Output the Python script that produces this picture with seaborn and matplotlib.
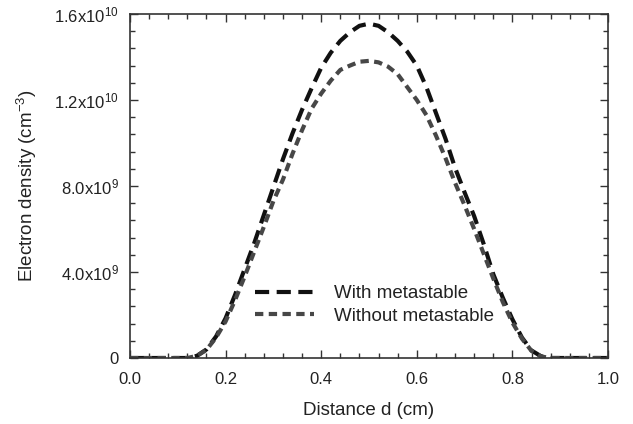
import matplotlib
matplotlib.use("Agg")
import matplotlib.pyplot as plt
import seaborn as sns
import numpy as np
import pandas as pd
from matplotlib.ticker import FixedLocator, MultipleLocator, FixedFormatter

distance = [0.00, 0.04, 0.08, 0.12, 0.14, 0.16, 0.18, 0.20, 0.22, 0.24, 0.26, 0.28, 0.30,
            0.32, 0.34, 0.36, 0.38, 0.40, 0.42, 0.44, 0.46, 0.48, 0.50, 0.52, 0.54, 0.56,
            0.58, 0.60, 0.62, 0.64, 0.66, 0.68, 0.70, 0.72, 0.74, 0.76, 0.78, 0.80, 0.82,
            0.84, 0.86, 0.88, 0.92, 0.96, 1.00]

with_meta = [0.0, 0.0, 0.0, 0.0, 0.1, 0.4, 1.0, 1.85, 2.95, 4.15, 5.35, 6.65, 7.95,
             9.25, 10.45, 11.55, 12.55, 13.5, 14.2, 14.75, 15.15, 15.45, 15.55, 15.45, 15.15, 14.75,
             14.25, 13.6, 12.6, 11.4, 10.2, 8.85, 7.7, 6.6, 5.3, 3.9, 2.8, 1.8, 0.95,
             0.35, 0.08, 0.0, 0.0, 0.0, 0.0]

without_meta = [0.0, 0.0, 0.0, 0.0, 0.1, 0.38, 0.95, 1.7, 2.7, 3.8, 4.95, 6.1, 7.3,
                8.3, 9.5, 10.6, 11.6, 12.3, 12.9, 13.4, 13.6, 13.78, 13.82, 13.75, 13.55, 13.2,
                12.6, 12.0, 11.3, 10.35, 9.3, 8.15, 7.1, 6.0, 4.85, 3.7, 2.6, 1.65, 0.9,
                0.33, 0.07, 0.0, 0.0, 0.0, 0.0]

series_labels = ["With metastable", "Without metastable"]
y_ticks = [0, 4.0e9, 8.0e9, 1.2e10, 1.6e10]
y_tick_labels = ["0", r"4.0x10$^{9}$", r"8.0x10$^{9}$", r"1.2x10$^{10}$", r"1.6x10$^{10}$"]
x_ticks = [0.0, 0.2, 0.4, 0.6, 0.8, 1.0]
x_tick_labels = ["0.0", "0.2", "0.4", "0.6", "0.8", "1.0"]

sns.set_style("ticks")
plt.rcParams["font.family"] = ["Liberation Sans", "DejaVu Sans"]
plt.rcParams["mathtext.fontset"] = "custom"
plt.rcParams["mathtext.rm"] = "Liberation Sans"
plt.rcParams["mathtext.it"] = "Liberation Sans"

fig = plt.figure(figsize=(6.33, 4.24), dpi=100)
ax = fig.add_axes([130/633, 66/424, 478/633, 344/424])

x = np.array(distance)
y1 = np.array(with_meta) * 1e9
y2 = np.array(without_meta) * 1e9

sns.lineplot(x=x, y=y1, ax=ax, color="#111111", linewidth=3.0, label=series_labels[0],
             dashes=False, sort=False)
sns.lineplot(x=x, y=y2, ax=ax, color="#474747", linewidth=3.0, label=series_labels[1],
             dashes=False, sort=False)
ax.lines[0].set_dashes([3.4, 1.8])
ax.lines[1].set_dashes([2.0, 1.3])

ax.set_xlim(0, 1.0)
ax.set_ylim(0, 1.6e10)
ax.xaxis.set_major_locator(FixedLocator(x_ticks))
ax.xaxis.set_major_formatter(FixedFormatter(x_tick_labels))
ax.xaxis.set_minor_locator(MultipleLocator(0.04))
ax.yaxis.set_major_locator(FixedLocator(y_ticks))
ax.yaxis.set_major_formatter(FixedFormatter(y_tick_labels))
ax.yaxis.set_minor_locator(MultipleLocator(0.8e9))

ax.tick_params(which="both", direction="in", top=True, right=True, colors="#333333",
               labelcolor="#222222", labelsize=12)
ax.tick_params(which="major", length=6, width=1.0)
ax.tick_params(axis="x", which="major", pad=10)
ax.tick_params(axis="y", which="major", pad=8)
ax.tick_params(which="minor", length=3.5, width=1.0)
for s in ax.spines.values():
    s.set_color("#333333")
    s.set_linewidth(1.2)

ax.set_xlabel("Distance d (cm)", fontsize=13.5, color="#222222", labelpad=11)
ax.set_ylabel(r"Electron density (cm$^{-3}$)", fontsize=13.5, color="#222222", labelpad=11)

leg = ax.legend(loc="upper left", bbox_to_anchor=(0.235, 0.25), frameon=False,
                fontsize=13.5, handlelength=3.1, handletextpad=1.1, labelspacing=0.3,
                borderpad=0.2)
for t in leg.get_texts():
    t.set_color("#222222")

fig.savefig("out.png", dpi=100)
